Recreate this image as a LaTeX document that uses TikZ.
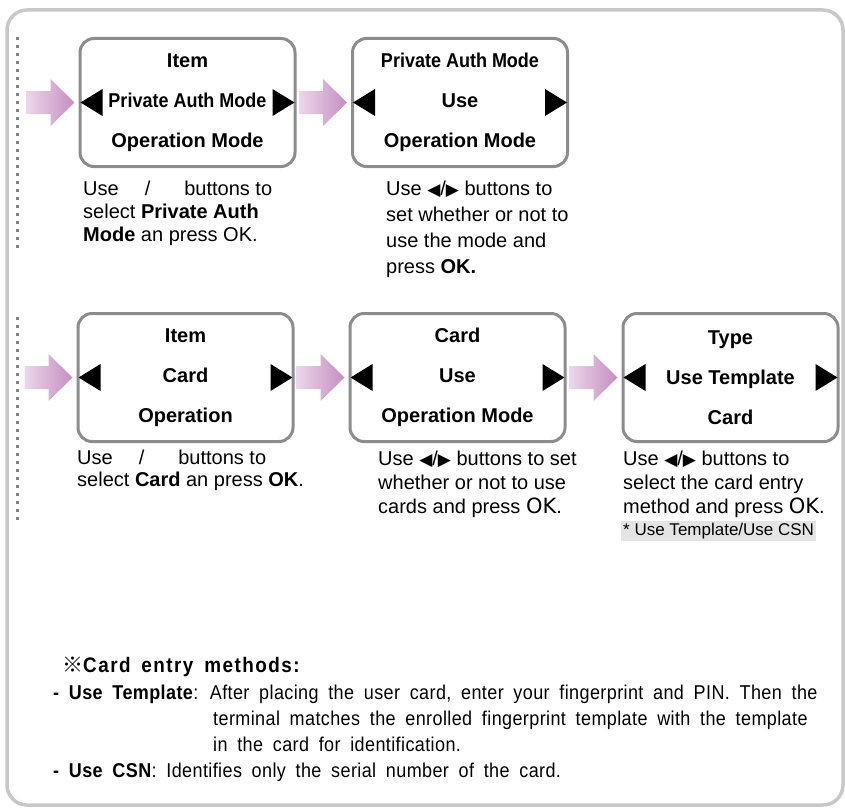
\documentclass[tikz,border=0pt]{standalone}
\usepackage{fontspec}
\setmainfont{Liberation Sans}
\newfontfamily\condfont[FakeStretch=0.9]{Liberation Sans}
\newfontfamily\notefont[FakeStretch=0.9,LetterSpace=2,WordSpace=1.8]{Liberation Sans}
\newfontfamily\headfont[FakeStretch=0.9,LetterSpace=7,WordSpace=1.6]{Liberation Sans}
\newfontfamily\symfont{DejaVu Sans}
\newfontfamily\cjkfont{Noto Sans CJK KR}
\definecolor{framegray}{RGB}{200,200,200}
\definecolor{boxgray}{RGB}{140,140,140}
\definecolor{dotgray}{RGB}{130,130,130}
\definecolor{arrowlight}{RGB}{236,214,234}
\definecolor{arrowdark}{RGB}{196,142,192}
\definecolor{notebg}{RGB}{228,228,228}
\newcommand{\tril}{{\symfont\fontsize{17}{17}\selectfont ◀}}
\newcommand{\trir}{{\symfont\fontsize{17}{17}\selectfont ▶}}
\newcommand{\okmark}{{\symfont\fontsize{21}{21}\selectfont OK}}
\tikzset{
  screen/.style={draw=boxgray, line width=3pt, rounded corners=14pt,
    minimum width=215pt, minimum height=128pt, inner sep=0pt, align=center,
    font=\bfseries\fontsize{20}{40}\selectfont},
  desc/.style={anchor=north west, inner sep=0pt, align=left},
  note/.style={anchor=base west, inner sep=0pt, font=\notefont\fontsize{20}{20}\selectfont},
  dotline/.style={dotgray, line width=3pt, dash pattern=on 3pt off 5pt},
  pics/pinkarrow/.style={code={
    \shade[left color=arrowlight, right color=arrowdark]
      (-48,-11.5) -- (-24,-11.5) -- (-24,-23.5) -- (0,0) -- (-24,23.5) -- (-24,11.5) -- (-48,11.5) -- cycle;}},
}
\begin{document}
\begin{tikzpicture}[x=1pt,y=-1pt]
\useasboundingbox (0,0) rectangle (845,808);
% outer frame
\draw[framegray, line width=3.5pt, rounded corners=20pt] (7,10) rectangle (843,805);
% dotted side lines
\coordinate (d1t) at (17,37); \coordinate (d1b) at (17,250);
\coordinate (d2t) at (17,317); \coordinate (d2b) at (17,520);
\draw[dotline] (d1t) -- (d1b);
\draw[dotline] (d2t) -- (d2b);
% screens row 1
\node[screen] (b1) at (187.5,102.5) {Item\\{\condfont\bfseries Private Auth Mode}\\Operation Mode};
\node[screen] (b2) at (460,102.5) {{\condfont\bfseries Private Auth Mode}\\Use\\Operation Mode};
% screens row 2
\node[screen] (b3) at (185.5,377.5) {Item\\Card\\Operation};
\node[screen] (b4) at (457.5,377.5) {Card\\Use\\Operation Mode};
\node[screen] (b5) at (730.5,377.5) {Type\\Use Template\\Card};
% triangles
\foreach \b in {b1,b2,b3,b4,b5}{
  \fill ([xshift=2pt]\b.west) -- ++(22,-13.5) -- ++(0,27) -- cycle;
  \fill ([xshift=-2pt]\b.east) -- ++(-22,-13.5) -- ++(0,27) -- cycle;
}
% arrows
\pic at ([xshift=-4pt]b1.west) {pinkarrow};
\pic at ([xshift=-4pt]b2.west) {pinkarrow};
\pic at ([xshift=-4pt]b3.west) {pinkarrow};
\pic at ([xshift=-4pt]b4.west) {pinkarrow};
\pic at ([xshift=-4pt]b5.west) {pinkarrow};
% descriptions
\node[desc, font=\fontsize{20}{23}\selectfont] (t1) at (83,181)
  {Use\hspace{26pt}/\hspace{34pt}buttons to\\select \textbf{Private Auth}\\\textbf{Mode} an press OK.};
\node[desc, font=\fontsize{20}{26}\selectfont] (t2) at (386,181)
  {Use \tril/\trir{} buttons to\\set whether or not to\\use the mode and\\press \textbf{OK.}};
\node[desc, font=\fontsize{20}{22}\selectfont] (t3) at (77,450)
  {Use\hspace{26pt}/\hspace{34pt}buttons to\\select \textbf{Card} an press \textbf{OK}.};
\node[desc, font=\fontsize{20}{24}\selectfont] (t4) at (378,451)
  {Use \tril/\trir{} buttons to set\\whether or not to use\\cards and press \okmark.};
\node[desc, font=\fontsize{20}{24}\selectfont] (t5) at (623,451)
  {Use \tril/\trir{} buttons to\\select the card entry\\method and press \okmark.};
\node[fill=notebg, inner sep=2pt, anchor=base west, font=\fontsize{17}{17}\selectfont] (t5n) at (621,535) {* Use Template/Use CSN};
% notes
\node[note, font=\headfont\bfseries\fontsize{21}{21}\selectfont] (n0) at (62,672) {{\cjkfont ※}Card entry methods:};
\node[note] (n1) at (53,699) {\textbf{- Use Template}: After placing the user card, enter your fingerprint and PIN. Then the};
\node[note] (n2) at (213,725) {terminal matches the enrolled fingerprint template with the template};
\node[note] (n3) at (213,751) {in the card for identification.};
\node[note] (n4) at (53,777) {\textbf{- Use CSN}: Identifies only the serial number of the card.};
\end{tikzpicture}
\end{document}
